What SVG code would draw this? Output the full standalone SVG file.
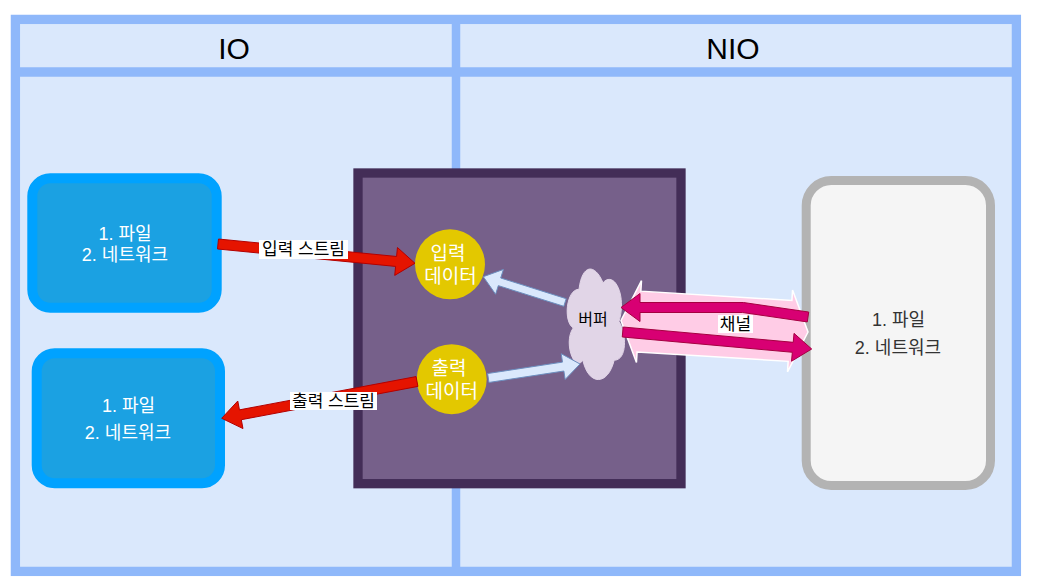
<svg xmlns="http://www.w3.org/2000/svg" width="1040" height="581" viewBox="0 0 1040 581">
<style>
text{font-family:"Liberation Sans","Noto Sans CJK KR",sans-serif;text-anchor:middle;dominant-baseline:central}
.hd{font-size:30px;fill:#000;dominant-baseline:auto}
.wt{fill:#fff;font-size:18px}
.yt{fill:#fff;font-size:19px}
.gt{fill:#333;font-size:18px}
.lb{fill:#000;font-size:17px}
.lbg{fill:#fff}
.red{fill:#E51400;stroke:#B20000;stroke-width:1}
.lbl{fill:#DAE8FC;stroke:#6C8EBF;stroke-width:1}
.mag{fill:#D80073;stroke:#A50040;stroke-width:1}
.pink{fill:#FFCCE6;stroke:#fff;stroke-width:1.5}
</style>
<rect width="1040" height="581" fill="#fff"/>
<g id="pool">
<rect x="15.4" y="19.4" width="1001" height="552" fill="#DAE8FC" stroke="#8FB8FA" stroke-width="9.3"/>
<line x1="15" y1="72" x2="1017" y2="72" stroke="#8FB8FA" stroke-width="9.4"/>
<line x1="456" y1="19" x2="456" y2="572" stroke="#8FB8FA" stroke-width="8.5"/>
<text class="hd" x="234" y="59">IO</text>
<text class="hd" x="733" y="59">NIO</text>
</g>
<g id="io-source">
<rect x="32.3" y="178.3" width="184.4" height="129.4" rx="18" fill="#1BA1E2" stroke="#00A2FF" stroke-width="10"/>
<text class="wt" x="125" y="233.5">1. 파일</text>
<text class="wt" x="125" y="254.5">2. 네트워크</text>
</g>
<g id="io-target">
<rect x="36.7" y="353.3" width="183.3" height="130" rx="18" fill="#1BA1E2" stroke="#00A2FF" stroke-width="10"/>
<text class="wt" x="128.5" y="405.5">1. 파일</text>
<text class="wt" x="128" y="433">2. 네트워크</text>
</g>
<g id="program">
<rect x="358" y="173" width="323" height="310.7" fill="#76608A" stroke="#432D57" stroke-width="9.3"/>
</g>
<g id="input-data">
<circle cx="450" cy="264.3" r="35" fill="#E3C800"/>
<text class="yt" x="448" y="253">입력</text>
<text class="yt" x="450.5" y="276">데이터</text>
</g>
<g id="output-data">
<circle cx="451.7" cy="379.2" r="35" fill="#E3C800"/>
<text class="yt" x="449" y="368">출력</text>
<text class="yt" x="451.7" y="391">데이터</text>
</g>
<g id="buffer">
<path d="M579,289.25 C566.2,289.25 563,321.5 573.24,327.95 C563,342.14 574.52,373.1 582.84,360.2 C588.6,386 607.8,386 614.2,360.2 C627,360.2 627,334.4 619,321.5 C627,295.7 614.2,269.9 603,282.8 C595,263.45 582.2,263.45 579,289.25 Z" fill="#E1D5E7" stroke="#E1D5E7"/>
<text class="lb" x="593" y="319" style="font-size:16px">버퍼</text>
</g>
<g id="nio-target">
<rect x="806.2" y="180.5" width="184.3" height="305" rx="25" fill="#F5F5F5" stroke="#B3B3B3" stroke-width="9"/>
<text class="gt" x="898.5" y="320">1. 파일</text>
<text class="gt" x="898" y="347.5">2. 네트워크</text>
</g>
<g id="connectors">
<polygon class="red" points="218.49,239.02 396.58,256.47 397.46,247.52 415,263.3 394.73,275.38 395.60,266.43 217.51,248.98"/>
<rect class="lbg" x="259" y="240" width="89" height="19"/>
<text class="lb" x="303.5" y="249.5">입력 스트림</text>
<polygon class="red" points="416.07,376.59 239.44,409.87 237.78,401.02 221.7,418.3 242.96,428.54 241.30,419.69 417.93,386.41"/>
<rect class="lbg" x="290" y="392" width="87" height="18"/>
<text class="lb" x="333.5" y="401">출력 스트림</text>
<polygon class="lbl" points="566.20,298.69 500.71,278.01 503.42,269.42 483.3,276.7 495.60,294.22 498.31,285.63 563.80,306.31"/>
<polygon class="lbl" points="487.62,373.55 562.51,362.12 561.23,353.72 580,364 565.15,379.42 563.87,371.02 488.98,382.45"/>
<polygon class="pink" points="621,320.5 641.49,280.69 640.84,291.17 791.90,300.45 792.55,289.97 808,332 787.51,371.81 788.16,361.33 637.10,352.05 636.45,362.53"/>
<polygon class="mag" points="808.72,312.05 743.4,302.5 640,302.5 640,293.5 621,307.5 640,321.5 640,312.5 742.6,312.5 807.28,321.95"/>
<polygon class="mag" points="623.15,327.02 793.23,342.32 794.03,333.36 811.7,349 791.53,361.24 792.33,352.28 622.25,336.98"/>
<rect class="lbg" x="718" y="315" width="35" height="18"/>
<text class="lb" x="735.5" y="324">채널</text>
</g>
</svg>
